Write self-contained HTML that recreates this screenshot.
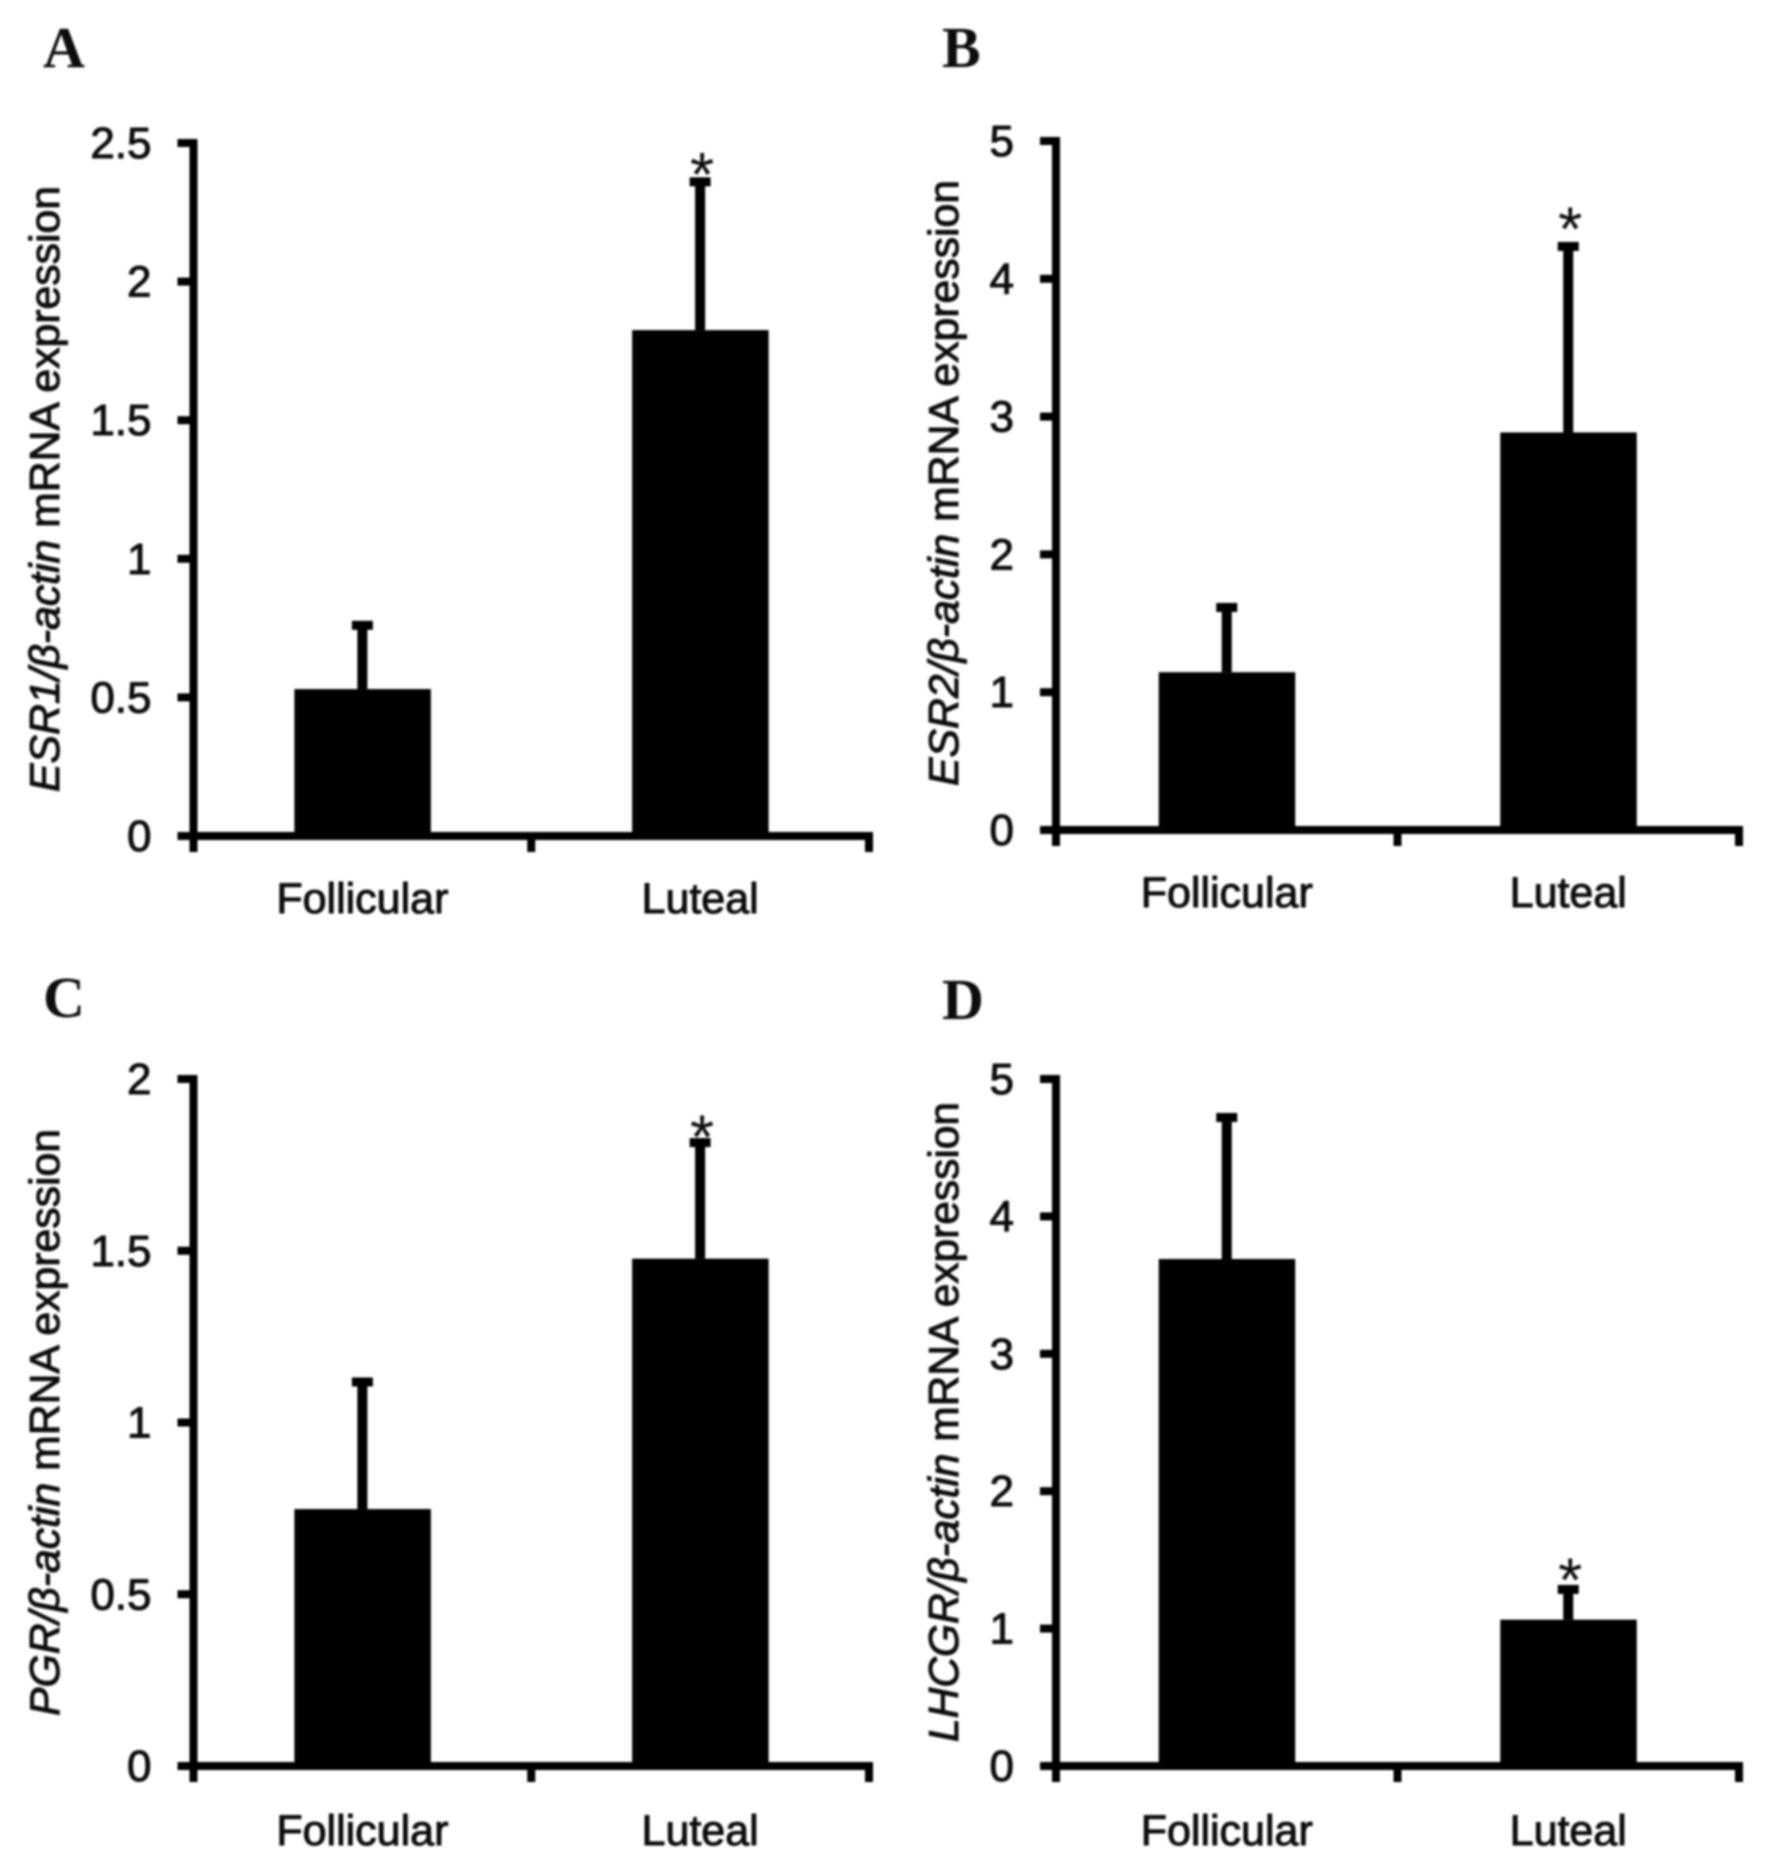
<!DOCTYPE html>
<html lang="en">
<head>
<meta charset="utf-8">
<title>mRNA expression in follicular and luteal phases</title>
<style>
html,body{margin:0;padding:0;background:#fff;width:1772px;height:1874px;overflow:hidden}
svg{display:block}
text{font-family:"Liberation Sans",sans-serif;fill:#111;stroke:#111;stroke-width:1px}
.letter{font-family:"Liberation Serif",serif;font-weight:700;font-size:58px;stroke-width:0}
.star{stroke-width:0}
</style>
</head>
<body>
<svg id="figure" xmlns="http://www.w3.org/2000/svg" width="1772" height="1874" viewBox="0 0 1772 1874">
<defs><filter id="soft" x="-2%" y="-2%" width="104%" height="104%"><feGaussianBlur stdDeviation="1"/></filter></defs>
<g id="root" filter="url(#soft)"></g>
</svg>
<script>
const categories = ['Follicular', 'Luteal'];

const ticksA = [0, 0.5, 1, 1.5, 2, 2.5];
const valuesA = [0.53, 1.825];
const errorsA = [0.76, 2.36];
const starsA = [false, true];

const ticksB = [0, 1, 2, 3, 4, 5];
const valuesB = [1.145, 2.885];
const errorsB = [1.615, 4.235];
const starsB = [false, true];

const ticksC = [0, 0.5, 1, 1.5, 2];
const valuesC = [0.748, 1.477];
const errorsC = [1.118, 1.815];
const starsC = [false, true];

const ticksD = [0, 1, 2, 3, 4, 5];
const valuesD = [3.69, 1.065];
const errorsD = [4.72, 1.285];
const starsD = [false, true];

const NS = 'http://www.w3.org/2000/svg';
const root = document.getElementById('root');

function make(tag, parent, props) {
  const n = document.createElementNS(NS, tag);
  for (const k in props) n.setAttribute(k, props[k]);
  parent.appendChild(n);
  return n;
}

function drawPanel(p) {
  const yScale = v => p.y0 - (v / p.ticks[p.ticks.length - 1]) * (p.y0 - p.yTop);
  const band = (p.xEnd - p.x0) / p.categories.length;
  const xScale = i => p.x0 + band * (i + 0.5);

  const g = make('g', root, {});
  
  

  const letter = make('text', g, { x: p.letterX, y: p.letterY, class: 'letter' });
  letter.textContent = p.id;
  
  

  p.values.forEach((v, i) => {
    const cx = xScale(i);
    const bar = make('rect', g, { x: cx - 68, y: yScale(v), width: 136.5, height: p.y0 - yScale(v), fill: '#000' });
    
    

    const stem = make('rect', g, { x: cx - 5, y: yScale(p.errors[i]), width: 10, height: yScale(v) - yScale(p.errors[i]), fill: '#000' });
    
    

    const cap = make('rect', g, { x: cx - 10.5, y: yScale(p.errors[i]) - 4.5, width: 21, height: 9, fill: '#000' });
    
    

    if (p.stars[i]) {
      const star = make('text', g, { x: cx + 2, y: yScale(p.errors[i]) - p.starGap + 31, 'text-anchor': 'middle', 'font-size': 62, class: 'star' });
      star.textContent = '*';
      
      
    }

    const label = make('text', g, { x: cx, y: p.catY, 'text-anchor': 'middle', 'font-size': 43 });
    label.textContent = p.categories[i];
    
    
  });

  const yAxis = make('rect', g, { x: p.x0 - 4, y: p.yTop - 4, width: 8, height: p.y0 - p.yTop + 8, fill: '#000' });
  
  

  const xAxis = make('rect', g, { x: p.x0 - 4, y: p.y0 - 4, width: p.xEnd - p.x0 + 8, height: 8, fill: '#000' });
  
  

  p.ticks.forEach(t => {
    const yt = yScale(t);
    const tick = make('rect', g, { x: p.x0 - 16, y: yt - 4, width: 16, height: 8, fill: '#000' });
    
    

    const tl = make('text', g, { x: p.x0 - 42, y: yt + 15, 'text-anchor': 'end', 'font-size': 44 });
    tl.textContent = String(t);
    
    
  });

  for (let i = 0; i <= p.categories.length; i++) {
    const xt = p.x0 + band * i;
    const tick = make('rect', g, { x: xt - 4, y: p.y0, width: 8, height: 16, fill: '#000' });
    
    
  }

  const title = make('text', g, {
    transform: 'translate(' + p.titleX + ',' + p.titleY + ') rotate(-90)',
    'font-size': 42, textLength: p.titleLen, lengthAdjust: 'spacingAndGlyphs'
  });
  
  
  const it = make('tspan', title, { 'font-style': 'italic' });
  it.textContent = p.gene + '/\u03B2-actin';
  const rest = make('tspan', title, {});
  rest.textContent = ' mRNA expression';
}

drawPanel({ id: 'A', gene: 'ESR1', categories, ticks: ticksA, values: valuesA, errors: errorsA, stars: starsA, starGap: 17,
  x0: 193.5, xEnd: 869, y0: 836, yTop: 143, catY: 913, letterX: 43, letterY: 67, titleX: 59, titleY: 792, titleLen: 606 });
drawPanel({ id: 'B', gene: 'ESR2', categories, ticks: ticksB, values: valuesB, errors: errorsB, stars: starsB, starGap: 27,
  x0: 1056, xEnd: 1739, y0: 830, yTop: 141, catY: 907, letterX: 942, letterY: 67, titleX: 958, titleY: 786, titleLen: 606 });
drawPanel({ id: 'C', gene: 'PGR', categories, ticks: ticksC, values: valuesC, errors: errorsC, stars: starsC, starGap: 15,
  x0: 193.5, xEnd: 869, y0: 1766, yTop: 1079, catY: 1845, letterX: 43, letterY: 1017, titleX: 59, titleY: 1716, titleLen: 587 });
drawPanel({ id: 'D', gene: 'LHCGR', categories, ticks: ticksD, values: valuesD, errors: errorsD, stars: starsD, starGap: 19,
  x0: 1056, xEnd: 1739, y0: 1766, yTop: 1079, catY: 1845, letterX: 942, letterY: 1019, titleX: 958, titleY: 1742, titleLen: 640 });
</script>
</body>
</html>
